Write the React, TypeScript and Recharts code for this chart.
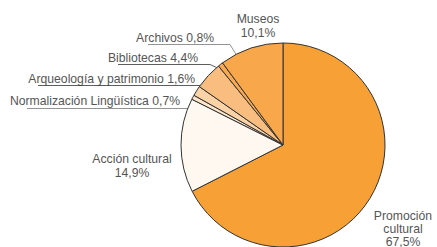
import { PieChart, Pie, Cell } from 'recharts'

const categories = ['Promoción cultural', 'Acción cultural', 'Normalización Lingüística', 'Arqueología y patrimonio', 'Bibliotecas', 'Archivos', 'Museos']
const shares = [67.5, 14.9, 0.7, 1.6, 4.4, 0.8, 10.1]
const shareLabels = ['67,5%', '14,9%', '0,7%', '1,6%', '4,4%', '0,8%', '10,1%']
const colors = ['#F7A035', '#FEF8F0', '#FDE6CC', '#FBD3A6', '#F9BE7F', '#F7AA52', '#F8A84A']

const data = categories.map((name, i) => ({ name, value: shares[i] }))

const TXT = '#555'
const LINE = '#333'
const font = { fontFamily: '"Liberation Sans", Arial, sans-serif', fontSize: 12.2 }

export default function App() {
  return (
    <div style={{ position: 'absolute', left: 0, top: 0, width: 437, height: 247, background: '#fff' }}>
      <PieChart width={437} height={247} margin={{ top: 0, right: 0, bottom: 0, left: 0 }}>
        <Pie
          data={data}
          dataKey="value"
          cx={283}
          cy={145}
          outerRadius={102}
          startAngle={90}
          endAngle={-270}
          stroke={LINE}
          strokeWidth={1}
          isAnimationActive={false}
          labelLine={false}
          label={false}
        >
          {data.map((d, i) => (
            <Cell key={d.name} fill={colors[i]} />
          ))}
        </Pie>
        <g style={font} fill={TXT}>
          <text x={258} y={23} textAnchor="middle">Museos</text>
          <text x={258} y={37} textAnchor="middle">{shareLabels[6]}</text>
          <text x={214} y={42} textAnchor="end">Archivos {shareLabels[5]}</text>
          <text x={198} y={62} textAnchor="end">Bibliotecas {shareLabels[4]}</text>
          <text x={195} y={83} textAnchor="end">Arqueología y patrimonio {shareLabels[3]}</text>
          <text x={180} y={105} textAnchor="end">Normalización Lingüística {shareLabels[2]}</text>
          <text x={132} y={163} textAnchor="middle">Acción cultural</text>
          <text x={132} y={177} textAnchor="middle">{shareLabels[1]}</text>
          <text x={403} y={220} textAnchor="middle">Promoción</text>
          <text x={403} y={233} textAnchor="middle">cultural</text>
          <text x={403} y={246} textAnchor="middle">{shareLabels[0]}</text>
        </g>
        <g fill="none" stroke={LINE} strokeWidth={0.8}>
          <polyline points="148,44.5 230,44.5 237,56" stroke="#777" />
          <polyline points="118,64.5 210,64.5 222,70" />
          <polyline points="38,85.5 208,85.5" />
          <polyline points="27,108.5 196,108.5 203,97" stroke="#777" />
        </g>
      </PieChart>
    </div>
  )
}
